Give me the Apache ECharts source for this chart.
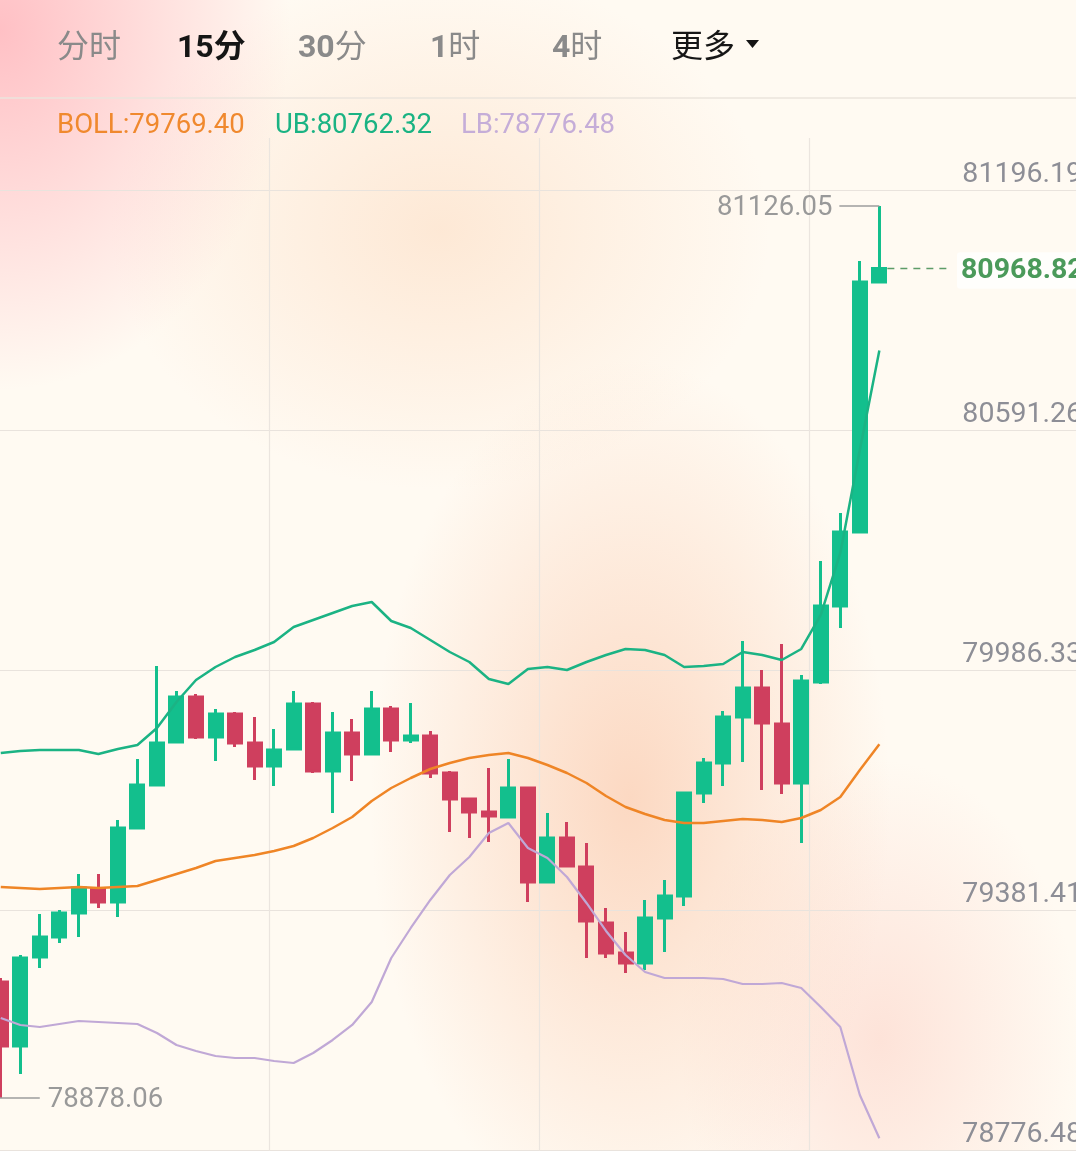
<!DOCTYPE html>
<html><head><meta charset="utf-8">
<script src="https://cdn.jsdelivr.net/npm/echarts@6/dist/echarts.min.js"></script>
<style>
html,body{margin:0;padding:0;width:1076px;height:1151px;overflow:hidden;position:relative;}
body{background:
 radial-gradient(ellipse 290px 360px at 0px 30px, rgba(255,186,192,0.9), rgba(255,190,196,0) 100%),
 radial-gradient(ellipse 330px 260px at 440px 230px, rgba(252,218,190,0.55), rgba(252,218,190,0) 100%),
 radial-gradient(ellipse 260px 440px at 630px 800px, rgba(251,208,182,0.8), rgba(251,208,182,0) 100%),
 radial-gradient(ellipse 200px 280px at 880px 1040px, rgba(252,208,196,0.55), rgba(252,208,196,0) 100%),
 #fffaf2;}
#chart{position:absolute;left:-9px;top:0;width:1094px;height:1151px;}
</style></head><body><div id="chart"></div>
<script>
// ---- data ----
const tabLabels = ['分时', '15分', '30分', '1时', '4时', '更多'];
const yTickLabels = ['78776.48', '79381.41', '79986.33', '80591.26', '81196.19'];
const openVals = [79170.44, 79009.13, 79233.45, 79283.86, 79344.35, 79404.85, 79372.08, 79558.60, 79666.98, 79775.36, 79888.78, 79787.96, 79845.93, 79772.84, 79714.87, 79757.71, 79871.14, 79702.26, 79798.04, 79745.11, 79858.54, 79780.40, 79790.48, 79697.22, 79631.69, 79598.92, 79586.32, 79659.42, 79422.49, 79533.39, 79460.30, 79319.15, 79243.53, 79218.33, 79331.75, 79387.20, 79646.81, 79722.43, 79838.37, 79911.47, 79820.73, 79672.02, 79926.59, 80118.15, 80304.66, 80934.79];
const closeVals = [79009.13, 79230.93, 79283.86, 79344.35, 79407.37, 79372.08, 79558.60, 79666.98, 79772.84, 79888.78, 79787.96, 79845.93, 79772.84, 79714.87, 79755.19, 79871.14, 79702.26, 79798.04, 79745.11, 79858.54, 79780.40, 79790.48, 79697.22, 79631.69, 79598.92, 79588.84, 79659.42, 79422.49, 79533.39, 79462.82, 79324.19, 79243.53, 79218.33, 79331.75, 79387.20, 79646.81, 79722.43, 79838.37, 79911.47, 79823.25, 79672.02, 79929.11, 80118.15, 80304.66, 80934.79, 80968.82];
const lowVals = [78878.06, 78938.55, 79205.73, 79268.74, 79283.86, 79356.96, 79334.27, 79558.60, 79666.98, 79775.36, 79782.92, 79727.47, 79762.76, 79679.58, 79664.46, 79757.71, 79697.22, 79596.40, 79677.06, 79745.11, 79750.15, 79772.84, 79684.62, 79548.51, 79533.39, 79523.31, 79586.32, 79372.08, 79422.49, 79462.82, 79230.93, 79230.93, 79193.12, 79200.68, 79246.05, 79362.00, 79621.61, 79664.46, 79724.95, 79654.37, 79644.29, 79520.79, 79921.55, 80062.70, 80304.66, 80934.79];
const highVals = [79180.52, 79238.49, 79341.83, 79351.91, 79442.65, 79442.65, 79578.76, 79732.51, 79966.92, 79903.90, 79896.34, 79858.54, 79850.97, 79838.37, 79808.13, 79903.90, 79876.18, 79850.97, 79833.33, 79903.90, 79866.10, 79873.66, 79803.08, 79702.26, 79631.69, 79709.83, 79732.51, 79659.42, 79596.40, 79573.72, 79520.79, 79356.96, 79296.46, 79377.12, 79427.53, 79646.81, 79735.03, 79853.49, 80029.93, 79956.83, 80022.37, 79944.23, 80231.57, 80352.55, 80987.72, 81126.05];
const bollUpper = [79747.63, 79752.67, 79755.19, 79755.19, 79755.19, 79745.11, 79757.71, 79767.80, 79810.65, 79876.18, 79931.63, 79964.40, 79989.60, 80007.24, 80027.41, 80065.22, 80082.86, 80100.50, 80118.15, 80128.23, 80080.34, 80062.70, 80032.45, 80002.20, 79977.00, 79934.15, 79921.55, 79959.36, 79964.40, 79956.83, 79977.00, 79994.64, 80009.76, 80007.24, 79994.64, 79964.40, 79966.92, 79971.96, 80002.20, 79994.64, 79982.04, 80009.76, 80095.46, 80251.73, 80511.34, 80762.32];
const bollMid = [79409.89, 79407.37, 79404.85, 79407.37, 79409.89, 79407.37, 79409.89, 79412.41, 79427.53, 79442.65, 79457.78, 79475.42, 79482.98, 79490.54, 79500.62, 79513.23, 79533.39, 79558.60, 79586.32, 79626.65, 79659.42, 79684.62, 79707.31, 79722.43, 79735.03, 79742.59, 79747.63, 79735.03, 79717.39, 79697.22, 79672.02, 79639.25, 79611.53, 79593.88, 79578.76, 79571.20, 79571.20, 79576.24, 79581.28, 79578.76, 79573.72, 79583.80, 79603.96, 79636.73, 79704.78, 79769.40];
const bollLower = [79079.70, 79062.06, 79057.02, 79064.58, 79072.14, 79069.62, 79067.10, 79064.58, 79041.89, 79011.65, 78996.52, 78983.92, 78978.88, 78978.88, 78971.32, 78966.28, 78991.48, 79024.25, 79062.06, 79120.03, 79230.93, 79306.55, 79377.12, 79440.13, 79485.50, 79545.99, 79571.20, 79508.19, 79482.98, 79435.09, 79369.56, 79298.98, 79238.49, 79195.64, 79180.52, 79180.52, 79180.52, 79178.00, 79165.40, 79165.40, 79167.92, 79155.32, 79107.43, 79057.02, 78885.62, 78776.48];
const highMark = 81126.05;
const lowMark = 78878.06;

// ---- chart setup ----
const SLOTS = 56; // candle slots incl. empty space on the right
const categories = Array.from({length: SLOTS}, (_, i) => 'k' + i);
const candleData = openVals.map((o, i) => [o, closeVals[i], lowVals[i], highVals[i]]);
const yMin = 78746.97, yStep = 604.925, yMax = yMin + 4 * yStep;
const UP = '#13bf8d', DOWN = '#cf3f5e';
const FONT = 'Roboto, "Noto Sans CJK SC", sans-serif';
const OX = 9; // chart canvas starts 9px left of the page
const TY = 2; // small vertical nudge for text centring

const chart = echarts.init(document.getElementById('chart'), null, {renderer: 'canvas'});
chart.setOption({
  animation: false,
  backgroundColor: 'transparent',
  grid: [
    {left: 0, right: 0, top: 190, bottom: 1},
    {left: OX - 1, width: 1080, top: 138, bottom: 0}
  ],
  xAxis: [
    {type: 'category', gridIndex: 0, data: categories, boundaryGap: true, show: false},
    {type: 'value', gridIndex: 1, min: 0, max: 1080, interval: 270,
     axisLine: {show: false}, axisTick: {show: false}, axisLabel: {show: false},
     splitLine: {show: true, showMinLine: false, showMaxLine: false, lineStyle: {color: '#ebe5df', width: 1.2}}}
  ],
  yAxis: [
    {type: 'value', gridIndex: 0, position: 'right', min: yMin, max: yMax, interval: yStep,
     axisLine: {show: false}, axisTick: {show: false},
     splitLine: {show: true, lineStyle: {color: '#e9e3dd', width: 1.2}},
     axisLabel: {inside: false, margin: -122, align: 'left', verticalAlign: 'bottom',
       lineHeight: 30, padding: [0, 0, 0, 0], fontSize: 28.5, color: '#8d8e96', fontFamily: FONT,
       formatter: v => yTickLabels[Math.round((v - yMin) / yStep)]}},
    {type: 'value', gridIndex: 1, show: false, min: 0, max: 1}
  ],
  series: [
    {type: 'candlestick', xAxisIndex: 0, yAxisIndex: 0, data: candleData, barWidth: 13.5,
     itemStyle: {color: UP, color0: DOWN, borderColor: UP, borderColor0: DOWN, borderWidth: 3}},
    {type: 'line', name: 'UB', data: bollUpper, symbol: 'none', z: 3,
     lineStyle: {color: '#1bb384', width: 2.5}},
    {type: 'line', name: 'BOLL', data: bollMid, symbol: 'none', z: 3,
     lineStyle: {color: '#ef8526', width: 2.5}},
    {type: 'line', name: 'LB', data: bollLower, symbol: 'none', z: 3,
     lineStyle: {color: '#c0a8d6', width: 2.2}}
  ]
});

// ---- overlay texts and markers positioned through the chart's own scales ----
const last = closeVals.length - 1;
const toPx = (i, v) => chart.convertToPixel({xAxisIndex: 0, yAxisIndex: 0}, [i, v]);
const pHigh = toPx(highVals.indexOf(highMark), highMark);
const pLow = toPx(lowVals.indexOf(lowMark), lowMark);
const pCur = toPx(last, closeVals[last]);

const gray = '#8a8a8a';
const richTab = (num, ch) => ({
  text: '{n|' + num + '}{c|' + ch + '}',
  rich: {
    n: {fontSize: 32, fontWeight: 'bold', fill: gray, fontFamily: FONT},
    c: {fontSize: 32, fontWeight: 'normal', fill: gray, fontFamily: FONT}
  }
});
const txt = (x, y, text, fill, size, weight, extra) => ({
  type: 'text', z: 100,
  style: Object.assign({x, y: y + TY, text, fill, fontSize: size, fontWeight: weight || 'normal',
    fontFamily: FONT, verticalAlign: 'middle', align: 'left'}, extra || {})
});
const tab = (x, parts) => ({type: 'text', z: 100, style: Object.assign({x: x + OX, y: 47 + TY, verticalAlign: 'middle'}, parts)});

chart.setOption({
  graphic: [
    {type: 'line', z: 90, shape: {x1: 0, y1: 98, x2: 1094, y2: 98}, style: {stroke: '#ebe4dd', lineWidth: 1.5}},
    txt(57 + OX, 47, tabLabels[0], gray, 32, 'normal'),
    txt(177 + OX, 47, tabLabels[1], '#151515', 32, 'bold'),
    tab(298, richTab(tabLabels[2].slice(0, 2), tabLabels[2].slice(2))),
    tab(430, richTab(tabLabels[3].slice(0, 1), tabLabels[3].slice(1))),
    tab(552, richTab(tabLabels[4].slice(0, 1), tabLabels[4].slice(1))),
    txt(671 + OX, 47, tabLabels[5], '#161616', 32, 'normal'),
    {type: 'polygon', z: 100, shape: {points: [[746 + OX, 40], [759 + OX, 40], [752.5 + OX, 48]]}, style: {fill: '#141414'}},
    txt(57 + OX, 124, 'BOLL:' + bollMid[last].toFixed(2), '#f0892e', 27.5),
    txt(275 + OX, 124, 'UB:' + bollUpper[last].toFixed(2), '#1ab383', 27.5),
    txt(461 + OX, 124, 'LB:' + bollLower[last].toFixed(2), '#c5add8', 27.5),
    // highest price marker
    {type: 'line', z: 95, shape: {x1: pHigh[0] - 40, y1: pHigh[1], x2: pHigh[0], y2: pHigh[1]}, style: {stroke: '#9c9c9c', lineWidth: 1.5}},
    txt(pHigh[0] - 47, pHigh[1], highMark.toFixed(2), '#999999', 27.5, 'normal', {align: 'right'}),
    // lowest price marker
    {type: 'line', z: 95, shape: {x1: pLow[0] - 2, y1: pLow[1], x2: pLow[0] + 39, y2: pLow[1]}, style: {stroke: '#9c9c9c', lineWidth: 1.5}},
    txt(pLow[0] + 47, pLow[1], lowMark.toFixed(2), '#999999', 27.5),
    // current price
    {type: 'line', z: 95, shape: {x1: pCur[0] + 8, y1: pCur[1], x2: 948 + OX, y2: pCur[1]}, style: {stroke: '#5d9c68', lineWidth: 1.5, lineDash: [7, 6]}},
    txt(957 + OX, pCur[1], closeVals[last].toFixed(2), '#4b9a5a', 28.5, 'bold',
      {backgroundColor: 'rgba(255,255,255,0.75)', padding: [4, 4, 4, 4], borderRadius: 3})
  ]
});
</script></body></html>
